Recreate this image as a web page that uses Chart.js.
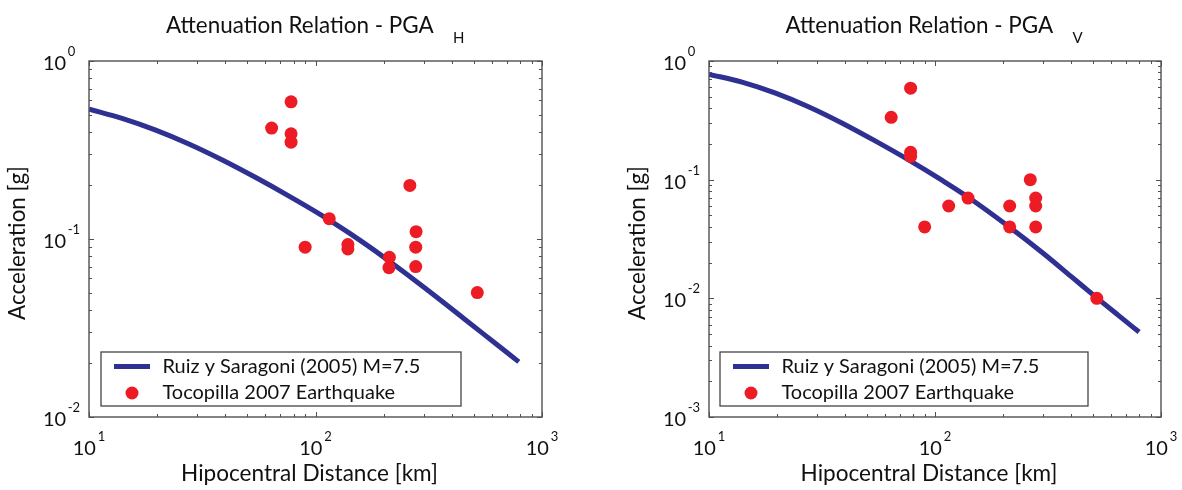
<!DOCTYPE html>
<html><head><meta charset="utf-8">
<script src="https://cdn.jsdelivr.net/npm/chart.js@4.4.1/dist/chart.umd.min.js"></script>
<style>
html,body{margin:0;padding:0;background:#fff;width:1182px;height:490px;overflow:hidden}
canvas{position:absolute;top:0}
#cH{left:0}
#cV{left:600px}
</style></head><body>
<canvas id="cH" width="600" height="490"></canvas>
<canvas id="cV" width="582" height="490"></canvas>
<script>
// ---------- data ----------
const curveDistH = [10, 14, 19.7, 27.6, 38.8, 54.5, 76.4, 107, 140.6, 175, 212, 300, 450, 600, 790];
const curveAccH  = [0.537, 0.476, 0.409, 0.342, 0.278, 0.2215, 0.1743, 0.1354, 0.1082, 0.0894, 0.0749, 0.0537, 0.0359, 0.0269, 0.0204];
const obsDistH   = [64, 78, 78, 78, 90, 115, 139, 139, 212, 211, 261, 278, 277, 277, 518];
const obsAccH    = [0.42, 0.59, 0.39, 0.35, 0.09, 0.13, 0.093, 0.088, 0.079, 0.069, 0.20, 0.11, 0.09, 0.07, 0.05];

const curveDistV = [10, 14, 19.7, 27.7, 38.9, 54.6, 76.7, 107.7, 136.7, 214, 300, 400, 520, 650, 800];
const curveAccV  = [0.772, 0.664, 0.536, 0.41, 0.299, 0.211, 0.146, 0.0985, 0.0735, 0.0397, 0.0241, 0.0153, 0.0101, 0.00715, 0.0052];
const obsDistV   = [64, 78, 78, 78, 90, 115, 140, 214, 214, 264, 279, 279, 279, 520];
const obsAccV    = [0.335, 0.59, 0.17, 0.157, 0.04, 0.06, 0.07, 0.06, 0.04, 0.10, 0.07, 0.06, 0.04, 0.01];

const xTickValues = [10, 100, 1000];
const xTickExps   = ['1', '2', '3'];
const yTickValuesH = [0.01, 0.1, 1];
const yTickExpsH   = ['-2', '-1', '0'];
const yTickValuesV = [0.001, 0.01, 0.1, 1];
const yTickExpsV   = ['-3', '-2', '-1', '0'];

const seriesLabels = ['Ruiz y Saragoni (2005) M=7.5', 'Tocopilla 2007 Earthquake'];
const titleMain = 'Attenuation Relation - PGA';
const titleSubs = ['H', 'V'];
const xTitle = 'Hipocentral Distance [km]';
const yTitle = 'Acceleration [g]';

// ---------- styling ----------
const FAMILY = 'Lato, "Open Sans", sans-serif';
const NAVY = '#2e3192';
const RED = '#ed1c24';
const FRAME = '#505050';
const TEXT = '#111111';

function fitSize(ctx, text, targetW) {
  ctx.font = '100px ' + FAMILY;
  return 100 * targetW / ctx.measureText(text).width;
}

const decoPlugin = {
  id: 'deco',
  afterDraw(chart, args, o) {
    const ctx = chart.ctx;
    const a = chart.chartArea;
    const xs = chart.scales.x, ys = chart.scales.y;
    ctx.save();
    // frame
    ctx.strokeStyle = FRAME;
    ctx.lineWidth = 1.4;
    ctx.strokeRect(a.left, a.top, a.right - a.left, a.bottom - a.top);
    // ticks (inside, all four sides)
    ctx.lineWidth = 1;
    ctx.beginPath();
    const logTicks = (min, max) => {
      const out = [];
      for (let d = min; d < max * 0.999; d *= 10) {
        for (let m = 1; m <= 9; m++) out.push({v: d * m, major: m === 1});
      }
      out.push({v: max, major: true});
      return out;
    };
    logTicks(xs.min, xs.max).forEach(t => {
      const px = Math.round(xs.getPixelForValue(t.v)) + 0.5;
      const L = t.major ? 5 : 3;
      ctx.moveTo(px, a.bottom); ctx.lineTo(px, a.bottom - L);
      ctx.moveTo(px, a.top); ctx.lineTo(px, a.top + L);
    });
    logTicks(ys.min, ys.max).forEach(t => {
      const py = Math.round(ys.getPixelForValue(t.v)) + 0.5;
      const L = t.major ? 5 : 3;
      ctx.moveTo(a.left, py); ctx.lineTo(a.left + L, py);
      ctx.moveTo(a.right, py); ctx.lineTo(a.right - L, py);
    });
    ctx.stroke();

    ctx.fillStyle = TEXT;
    ctx.textBaseline = 'alphabetic';
    ctx.textAlign = 'left';
    // x tick labels
    xTickValues.forEach((v, i) => {
      const px = xs.getPixelForValue(v);
      ctx.font = '20px ' + FAMILY;
      const wb = ctx.measureText('10').width;
      ctx.font = '13px ' + FAMILY;
      const we = ctx.measureText(xTickExps[i]).width;
      const start = px - (wb + 2 + we) / 2;
      ctx.font = '20px ' + FAMILY;
      ctx.fillText('10', start, 455);
      ctx.font = '13px ' + FAMILY;
      ctx.fillText(xTickExps[i], start + wb + 2, 441);
    });
    // y tick labels
    o.yTicks.forEach((v, i) => {
      const py = ys.getPixelForValue(v);
      const start = a.left - 46;
      ctx.font = '20px ' + FAMILY;
      const wb = ctx.measureText('10').width;
      ctx.fillText('10', start, py + 9);
      ctx.font = '13px ' + FAMILY;
      ctx.fillText(o.yExps[i], start + wb + 1.5, py - 5);
    });

    const cx = (a.left + a.right) / 2;
    // title with subscript
    const ts = fitSize(ctx, titleMain, 268);
    ctx.font = ts + 'px ' + FAMILY;
    const tl = cx - 149.5;
    ctx.fillText(titleMain, tl, 33);
    ctx.font = '15px ' + FAMILY;
    ctx.fillText(o.sub, tl + 287, 43);

    // x title
    const xsz = fitSize(ctx, xTitle, 257);
    ctx.font = xsz + 'px ' + FAMILY;
    ctx.textAlign = 'center';
    ctx.fillText(xTitle, cx - 6, 481);

    // y title
    const ysz = fitSize(ctx, yTitle, 154);
    ctx.save();
    ctx.translate(a.left - 71, 243);
    ctx.rotate(-Math.PI / 2);
    ctx.font = ysz + 'px ' + FAMILY;
    ctx.textAlign = 'center';
    ctx.textBaseline = 'middle';
    ctx.fillText(yTitle, 0, 0);
    ctx.restore();

    // legend
    const bl = a.left + o.legOff, bt = 352, bw = o.legW, bh = 54;
    ctx.fillStyle = '#ffffff';
    ctx.fillRect(bl, bt, bw, bh);
    ctx.strokeStyle = '#444444';
    ctx.lineWidth = 1.3;
    ctx.strokeRect(bl, bt, bw, bh);
    const ds = chart.data.datasets;
    ctx.strokeStyle = ds[0].borderColor;
    ctx.lineWidth = ds[0].borderWidth;
    ctx.beginPath();
    ctx.moveTo(bl + 13, 366.5); ctx.lineTo(bl + 49, 366.5);
    ctx.stroke();
    ctx.fillStyle = ds[1].backgroundColor;
    ctx.beginPath();
    ctx.arc(bl + 31, 393, ds[1].pointRadius, 0, Math.PI * 2);
    ctx.fill();
    const ls = fitSize(ctx, ds[0].label, 258);
    ctx.font = ls + 'px ' + FAMILY;
    ctx.fillStyle = TEXT;
    ctx.textAlign = 'left';
    ctx.textBaseline = 'middle';
    ctx.fillText(ds[0].label, bl + 61.5, 366.5);
    ctx.fillText(ds[1].label, bl + 61.5, 393);
    ctx.restore();
  }
};

function makeChart(id, cx, cy, ox, oy, yTicks, yExps, sub, pad, legOff, legW) {
  const curve = cx.map((x, i) => ({x: x, y: cy[i]}));
  const obs = ox.map((x, i) => ({x: x, y: oy[i]}));
  return new Chart(document.getElementById(id), {
    type: 'scatter',
    data: {
      datasets: [
        {type: 'line', label: seriesLabels[0], data: curve, borderColor: NAVY, backgroundColor: NAVY,
         borderWidth: 5, pointRadius: 0, fill: false, cubicInterpolationMode: 'monotone', order: 2},
        {label: seriesLabels[1], data: obs, backgroundColor: RED, borderColor: RED,
         pointRadius: 6.5, borderWidth: 0, showLine: false, order: 1}
      ]
    },
    options: {
      responsive: false, animation: false, devicePixelRatio: 1,
      layout: {padding: pad},
      scales: {
        x: {type: 'logarithmic', min: 10, max: 1000, display: false},
        y: {type: 'logarithmic', min: yTicks[0], max: 1, display: false}
      },
      plugins: {
        legend: {display: false}, tooltip: {enabled: false}, title: {display: false},
        deco: {yTicks: yTicks, yExps: yExps, sub: sub, legOff: legOff, legW: legW}
      }
    },
    plugins: [decoPlugin]
  });
}

makeChart('cH', curveDistH, curveAccH, obsDistH, obsAccH, yTickValuesH, yTickExpsH, titleSubs[0],
  {left: 89, right: 58, top: 61, bottom: 73}, 12, 360);
makeChart('cV', curveDistV, curveAccV, obsDistV, obsAccV, yTickValuesV, yTickExpsV, titleSubs[1],
  {left: 109, right: 21, top: 61, bottom: 73}, 11, 368);
</script>
</body></html>
